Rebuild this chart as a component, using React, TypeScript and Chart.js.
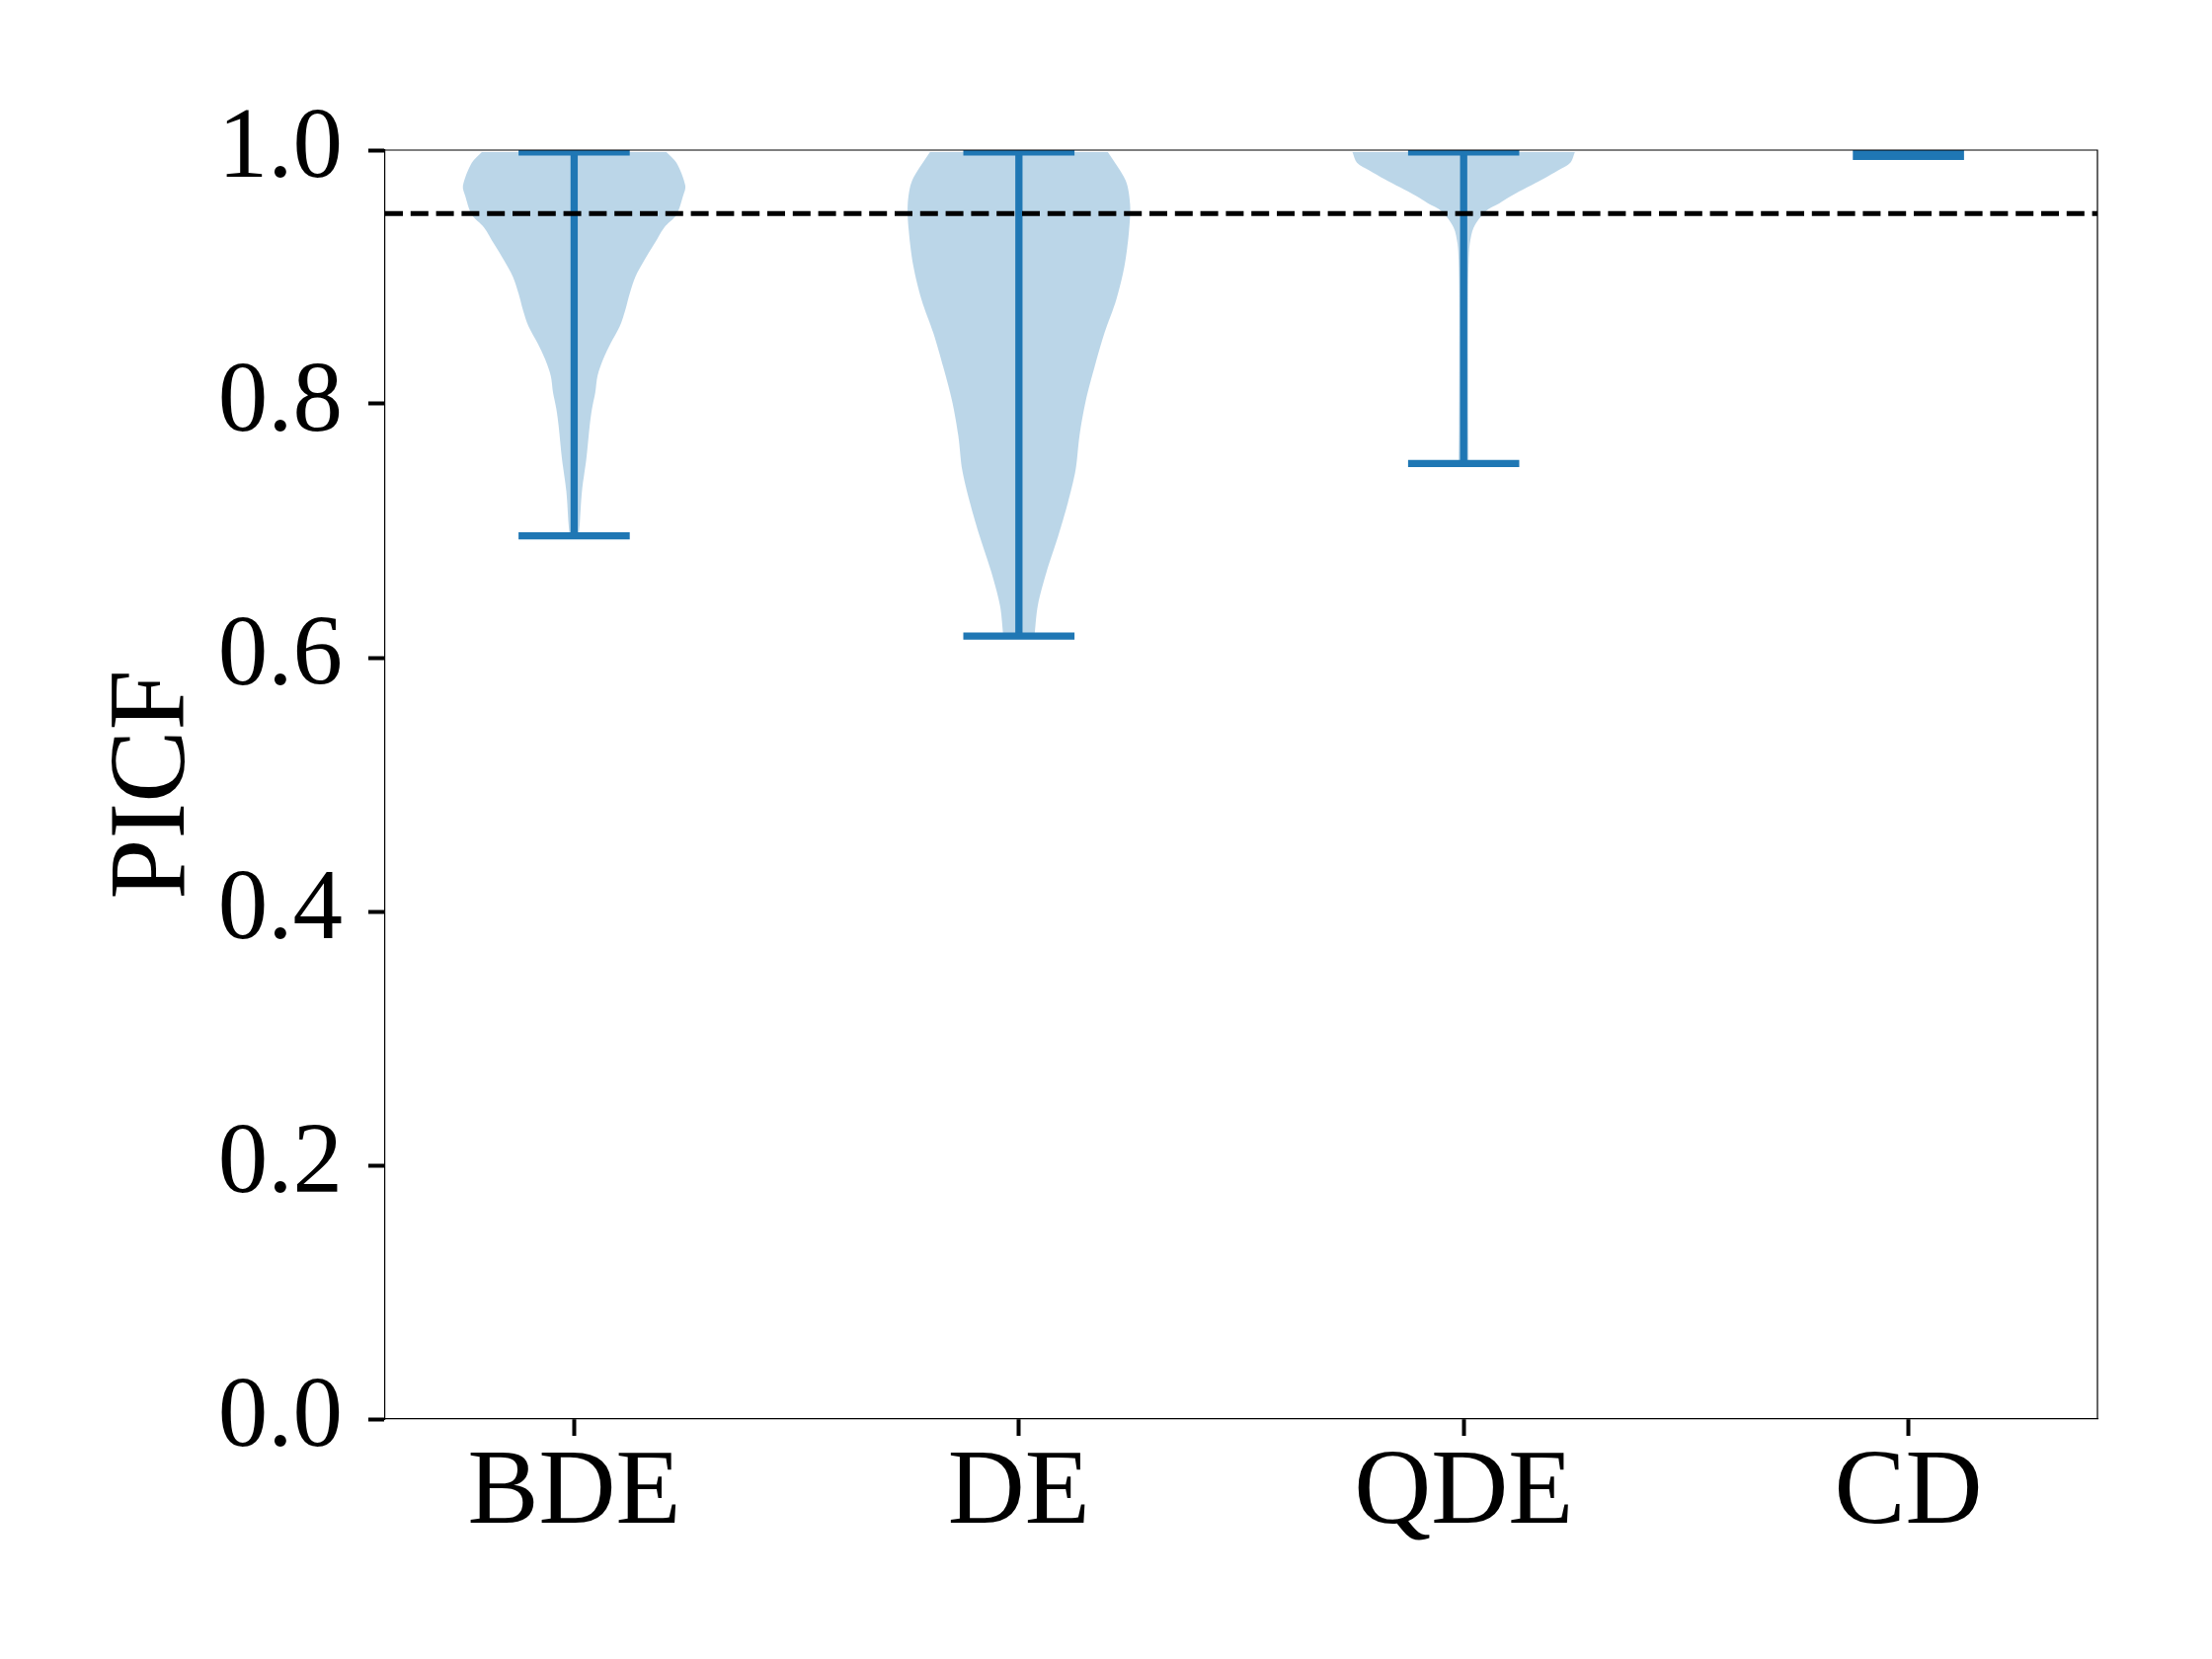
import React, { useEffect, useRef } from 'react';
import { Chart, registerables } from 'chart.js';

Chart.register(...registerables);

// ---- data ----
const categories = ['BDE', 'DE', 'QDE', 'CD'];
const positions = [1, 2, 3, 4];
const minValues = [0.696, 0.617, 0.753, 0.995];
const maxValues = [0.9985, 0.9985, 0.9985, 1.0];
const referenceLevel = 0.95;
const yTickValues = [0, 0.2, 0.4, 0.6, 0.8, 1.0];

// violin outlines: PICF level and relative density (1 = widest)
const bdeLevels = [0.696, 0.705, 0.731, 0.757, 0.783, 0.796, 0.809, 0.822, 0.835, 0.848, 0.861, 0.874, 0.887, 0.900, 0.913, 0.926, 0.939, 0.949, 0.964, 0.972, 0.990, 0.9985];
const bdeDensity = [0.04, 0.05, 0.07, 0.11, 0.14, 0.16, 0.19, 0.21, 0.26, 0.33, 0.41, 0.46, 0.50, 0.55, 0.63, 0.72, 0.81, 0.92, 0.98, 1.0, 0.92, 0.83];

const deLevels = [0.617, 0.641, 0.668, 0.695, 0.722, 0.748, 0.775, 0.802, 0.829, 0.856, 0.882, 0.909, 0.936, 0.957, 0.976, 0.9985];
const deDensity = [0.14, 0.17, 0.25, 0.35, 0.44, 0.51, 0.545, 0.60, 0.68, 0.77, 0.875, 0.95, 0.99, 1.0, 0.96, 0.80];

const qdeLevels = [0.753, 0.783, 0.835, 0.887, 0.913, 0.926, 0.939, 0.952, 0.958, 0.964, 0.977, 0.984, 0.990, 0.9985];
const qdeDensity = [0.045, 0.042, 0.04, 0.04, 0.045, 0.055, 0.09, 0.20, 0.32, 0.43, 0.71, 0.85, 0.96, 1.0];

const cdLevels: number[] = [];
const cdDensity: number[] = [];

const violinLevels = [bdeLevels, deLevels, qdeLevels, cdLevels];
const violinDensity = [bdeDensity, deDensity, qdeDensity, cdDensity];

// ---- style / axis constants ----
const X_MIN = 0.575;
const X_MAX = 4.425;
const VIOLIN_HALF_WIDTH = 0.25;
const CAP_HALF_WIDTH = 0.125;
const BLUE = '#1f77b4';
const BLUE_FILL = 'rgba(31,119,180,0.3)';
const FONT = "'Liberation Serif', 'DejaVu Serif', serif";

const framePlugin = {
  id: 'frame',
  afterDatasetsDraw(chart: any) {
    const { ctx, chartArea: a } = chart;
    ctx.save();
    ctx.strokeStyle = '#000';
    ctx.lineWidth = 1.2;
    ctx.beginPath();
    ctx.moveTo(a.left, a.top);
    ctx.lineTo(a.right, a.top);
    ctx.lineTo(a.right, a.bottom);
    ctx.stroke();
    ctx.restore();
  },
};

export default function App() {
  const canvasRef = useRef<HTMLCanvasElement | null>(null);

  useEffect(() => {
    if (!canvasRef.current) return;

    const barData: any[] = [];
    const capData: any[] = [];
    positions.forEach((p, i) => {
      barData.push({ x: p, y: minValues[i] }, { x: p, y: maxValues[i] }, { x: p, y: null });
      capData.push(
        { x: p - CAP_HALF_WIDTH, y: minValues[i] },
        { x: p + CAP_HALF_WIDTH, y: minValues[i] },
        { x: p, y: null },
        { x: p - CAP_HALF_WIDTH, y: maxValues[i] },
        { x: p + CAP_HALF_WIDTH, y: maxValues[i] },
        { x: p, y: null }
      );
    });

    const violinDatasets = positions
      .map((p, i) => {
        const lv = violinLevels[i];
        const dn = violinDensity[i];
        if (!lv.length) return null;
        // top-right -> down the right side -> up the left side; corner points doubled so
        // the flat top and bottom edges stay straight with curved sides
        const right = lv.map((v, k) => ({ x: p + dn[k] * VIOLIN_HALF_WIDTH, y: v })).reverse();
        const left = lv.map((v, k) => ({ x: p - dn[k] * VIOLIN_HALF_WIDTH, y: v }));
        const outline = [
          right[0],
          ...right,
          right[right.length - 1],
          left[0],
          ...left,
          left[left.length - 1],
        ];
        return {
          label: categories[i],
          data: outline,
          borderWidth: 0,
          borderColor: 'rgba(0,0,0,0)',
          backgroundColor: BLUE_FILL,
          fill: 'shape',
          tension: 0.3,
          pointRadius: 0,
          clip: 0,
        };
      })
      .filter(Boolean) as any[];

    const chart = new Chart(canvasRef.current, {
      type: 'line',
      data: {
        datasets: [
          {
            label: 'reference',
            data: [
              { x: X_MIN, y: referenceLevel },
              { x: X_MAX, y: referenceLevel },
            ],
            borderColor: '#000',
            borderWidth: 4.86,
            borderDash: [18, 7.8],
            borderCapStyle: 'butt',
            pointRadius: 0,
            fill: false,
            clip: 0,
          },
          {
            label: 'caps',
            data: capData,
            borderColor: BLUE,
            borderWidth: 7.3,
            borderCapStyle: 'butt',
            pointRadius: 0,
            fill: false,
            spanGaps: false,
            clip: 0,
          },
          {
            label: 'bars',
            data: barData,
            borderColor: BLUE,
            borderWidth: 7.3,
            borderCapStyle: 'butt',
            pointRadius: 0,
            fill: false,
            spanGaps: false,
            clip: 0,
          },
          ...violinDatasets,
        ],
      },
      options: {
        responsive: false,
        animation: false,
        devicePixelRatio: 1,
        layout: { padding: { left: 0, top: 152, right: 116, bottom: 0 } },
        plugins: { legend: { display: false }, tooltip: { enabled: false } },
        elements: { point: { radius: 0 } },
        scales: {
          x: {
            type: 'linear',
            min: X_MIN,
            max: X_MAX,
            afterBuildTicks: (s: any) => {
              s.ticks = positions.map((v) => ({ value: v }));
            },
            afterFit: (s: any) => {
              s.height = 243;
            },
            grid: { drawOnChartArea: false, drawTicks: true, tickLength: 17, tickWidth: 4, tickColor: '#000' },
            border: { display: true, color: '#000', width: 1.2 },
            ticks: {
              color: '#000',
              font: { family: FONT, size: 108 },
              padding: -5,
              autoSkip: false,
              maxRotation: 0,
              callback: (v: any) => categories[Math.round(Number(v)) - 1] ?? '',
            },
          },
          y: {
            type: 'linear',
            min: 0,
            max: 1,
            afterBuildTicks: (s: any) => {
              s.ticks = yTickValues.map((v) => ({ value: v }));
            },
            afterFit: (s: any) => {
              s.width = 390;
            },
            title: {
              display: true,
              text: 'PICF',
              color: '#000',
              font: { family: FONT, size: 110 },
              padding: { top: 91, bottom: 0 },
            },
            grid: { drawOnChartArea: false, drawTicks: true, tickLength: 17, tickWidth: 4, tickColor: '#000' },
            border: { display: true, color: '#000', width: 1.2 },
            ticks: {
              color: '#000',
              font: { family: FONT, size: 101 },
              padding: 26,
              autoSkip: false,
              callback: (v: any) => Number(v).toFixed(1),
            },
          },
        },
      },
      plugins: [framePlugin],
    } as any);

    return () => chart.destroy();
  }, []);

  return (
    <div style={{ position: 'absolute', left: 0, top: 0, width: 2240, height: 1680, background: '#fff' }}>
      <canvas ref={canvasRef} width={2240} height={1680} style={{ display: 'block', width: 2240, height: 1680 }} />
    </div>
  );
}
